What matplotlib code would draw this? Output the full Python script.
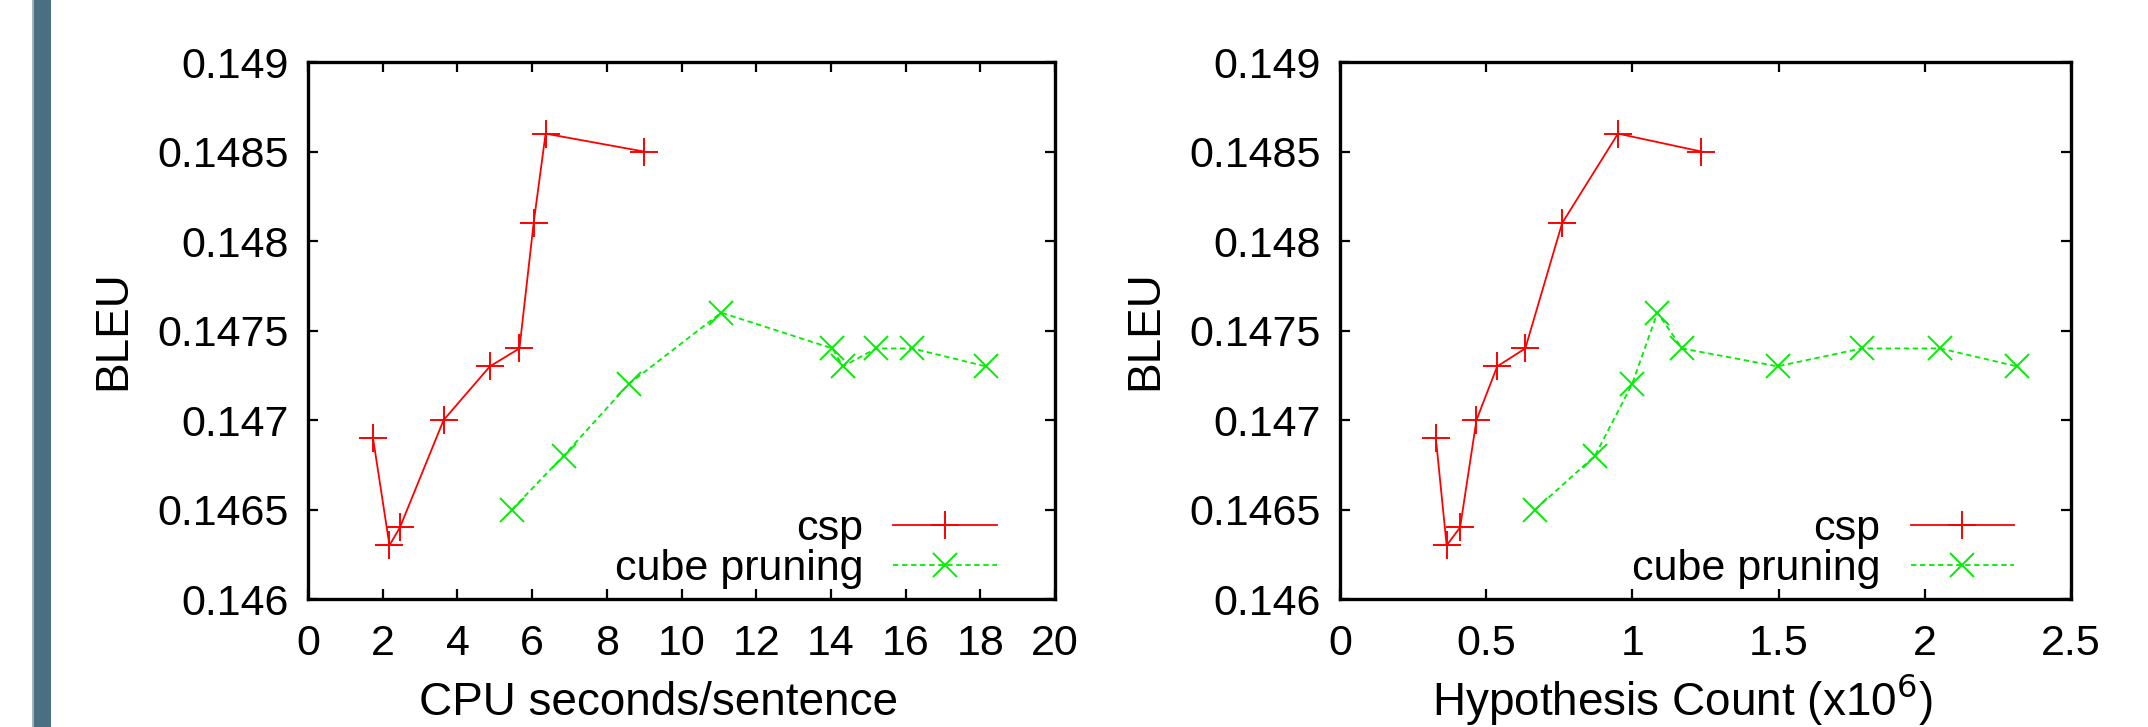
"""Recreate the BLEU vs CPU time / hypothesis count figure."""

import matplotlib

matplotlib.use("Agg")
import matplotlib.pyplot as plt
from matplotlib.patches import Rectangle
from matplotlib.ticker import FormatStrFormatter, MultipleLocator

# csp: CPU seconds/sentence, hypothesis count (x10^6), BLEU
csp_cpu = [1.74, 2.18, 2.46, 3.63, 4.87, 5.66, 6.04, 6.36, 8.99]
csp_hyp = [0.328, 0.365, 0.411, 0.467, 0.538, 0.634, 0.760, 0.951, 1.236]
csp_bleu = [0.1469, 0.1463, 0.1464, 0.1470, 0.1473, 0.1474, 0.1481, 0.1486, 0.1485]

# cube pruning
cube_cpu = [5.46, 6.84, 8.58, 11.06, 14.04, 14.32, 15.21, 16.18, 18.14]
cube_bleu_cpu = [0.1465, 0.1468, 0.1472, 0.1476, 0.1474, 0.1473, 0.1474, 0.1474, 0.1473]
cube_hyp = [0.668, 0.872, 0.999, 1.086, 1.170, 1.497, 1.784, 2.053, 2.315]
cube_bleu_hyp = [0.1465, 0.1468, 0.1472, 0.1476, 0.1474, 0.1473, 0.1474, 0.1474, 0.1473]

plt.rcParams["font.family"] = ["Liberation Sans", "DejaVu Sans"]
plt.rcParams["font.size"] = 31

fig = plt.figure(figsize=(21.48, 7.27), dpi=100)
fig.patches.append(Rectangle((32 / 2148, 0), 19 / 2148, 1, transform=fig.transFigure,
                             facecolor="#4a6f82", edgecolor="none"))
fig.patches.append(Rectangle((32 / 2148, 0), 1.5 / 2148, 1, transform=fig.transFigure,
                             facecolor="#9db3bf", edgecolor="none"))

ax1 = fig.add_axes([0.1434, 0.176, 0.3478, 0.7387])
ax2 = fig.add_axes([0.6238, 0.176, 0.3403, 0.7387])

panels = [
    (ax1, csp_cpu, csp_bleu, cube_cpu, cube_bleu_cpu, (0, 20), 2, "CPU seconds/sentence"),
    (ax2, csp_hyp, csp_bleu, cube_hyp, cube_bleu_hyp, (0, 2.5), 0.5, "Hypothesis Count (x10$^6$)"),
]

for ax, cx, cy, gx, gy, xlim, xstep, xlabel in panels:
    ax.plot(cx, cy, color="#ff0000", linewidth=1.3, marker="+", markersize=20,
            markeredgewidth=1.4, label="csp")
    ax.plot(gx, gy, color="#00ee00", linewidth=1.3, linestyle=(0, (3, 2)), marker="x",
            markersize=17, markeredgewidth=1.4, label="cube pruning")
    ax.set_xlim(*xlim)
    ax.set_ylim(0.146, 0.149)
    ax.xaxis.set_major_locator(MultipleLocator(xstep))
    ax.yaxis.set_major_locator(MultipleLocator(0.0005))
    ax.xaxis.set_major_formatter(FormatStrFormatter("%g"))
    ax.yaxis.set_major_formatter(FormatStrFormatter("%g"))
    ax.tick_params(direction="in", length=7, width=1.6, top=True, right=True, pad=14)
    ax.tick_params(axis="x", pad=18)
    for s in ax.spines.values():
        s.set_linewidth(2.4)
    ax.set_xlabel(xlabel, fontsize=33, va="baseline")
    ax.xaxis.set_label_coords(0.469, -0.216)
    ax.set_ylabel("BLEU", fontsize=33, labelpad=16)
    ax.legend(loc="lower right", bbox_to_anchor=(0.922, 0.018), frameon=False,
              markerfirst=False, handlelength=2.4, handletextpad=0.7,
              labelspacing=0.0, borderpad=0, borderaxespad=0)

fig.savefig("out.png")
plt.close(fig)
